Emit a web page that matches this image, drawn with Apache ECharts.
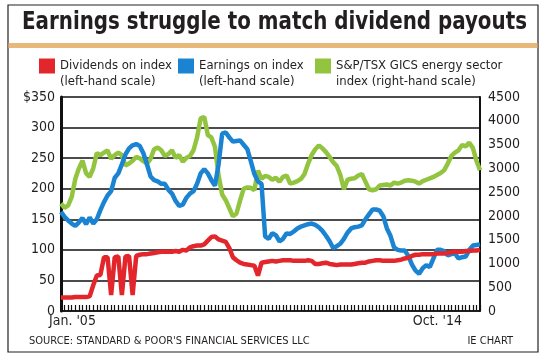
<!DOCTYPE html>
<html>
<head>
<meta charset="utf-8">
<script src="https://cdn.jsdelivr.net/npm/echarts@6/dist/echarts.min.js"></script>
<style>
html,body{margin:0;padding:0;background:#fff;}
#c{width:547px;height:361px;}
</style>
</head>
<body>
<div id="c"></div>
<script>
// ---- data ----
const startYear = 2005, startMonth = 0, monthCount = 118; // Jan 2005 .. Oct 2014
const categories = [];
for (let i = 0; i < monthCount; i++) {
  const m = (startMonth + i) % 12, y = startYear + Math.floor((startMonth + i) / 12);
  categories.push(y + '-' + String(m + 1).padStart(2, '0'));
}
const dividends = [22,22,22,22,23,23,23,23,24,42,
58,59,88,88,26,88,89,26,89,90,
26,90,92,93,93,94,95,96,97,97,
97,97,98,97,100,99,104,106,107,107,
109,115,121,122,117,115,113,103,88,83,
79,77,76,75,74,58,79,80,81,82,
81,82,83,83,83,82,82,82,82,83,
82,77,77,78,79,77,76,75,76,76,
76,76,77,78,79,79,81,82,83,83,
82,82,82,82,83,84,86,87,90,92,
92,93,93,93,93,94,94,94,95,96,
97,97,97,98,98,99,99,100];
const earnings = [162,154,148,143,139,145,152,142,153,143,
150,165,178,189,196,218,225,240,256,266,
271,273,270,258,240,220,214,212,208,208,
198,192,180,172,174,185,192,196,208,225,
232,225,214,205,240,290,292,284,277,278,
279,272,265,245,224,212,208,122,118,127,
124,114,118,127,126,130,135,138,140,142,
143,141,137,131,123,114,103,106,110,118,
128,135,137,138,140,150,158,166,166,164,
155,135,123,104,100,99,99,90,76,66,
61,70,75,72,86,100,100,98,91,93,
94,86,88,89,100,107,108,109];
const energyIndex = [2260,2170,2220,2400,2780,3000,3160,2900,2820,3000,
3320,3280,3330,3380,3200,3280,3330,3280,3060,3100,
3160,3240,3210,3150,3100,3200,3400,3440,3380,3260,
3300,3380,3220,3280,3140,3220,3260,3380,3650,4050,
4080,3700,3650,3450,2850,2450,2330,2160,1990,2050,
2320,2570,2600,2590,2540,2950,2780,2840,2820,2760,
2800,2720,2820,2850,2680,2700,2730,2780,2880,3100,
3280,3400,3480,3420,3340,3240,3130,3050,2860,2560,
2760,2780,2790,2850,2880,2720,2560,2540,2560,2640,
2650,2660,2640,2700,2680,2700,2740,2750,2740,2720,
2680,2730,2760,2790,2820,2860,2900,2960,3100,3260,
3330,3380,3490,3460,3540,3430,3160,2960];
const leftTickLabels = ['0','50','100','150','200','250','300','$350'];
const rightTickLabels = ['0','500','1000','1500','2000','2500','3000','3500','4000','4500'];
const xTickLabels = ["Jan. '05", "Oct. '14"];
const seriesNames = ['Dividends on index\n(left-hand scale)', 'Earnings on index\n(left-hand scale)', 'S&P/TSX GICS energy sector\nindex (right-hand scale)'];
const titleText = 'Earnings struggle to match dividend payouts';
const sourceText = "SOURCE: STANDARD & POOR'S FINANCIAL SERVICES LLC";
const creditText = 'IE CHART';

// ---- chart ----
const FONT = '"DejaVu Sans Condensed","Liberation Sans Narrow",sans-serif';
const RED = '#e2262c', BLUE = '#1b84d2', GREEN = '#92c43f', INK = '#231f20';
const chart = echarts.init(document.getElementById('c'), null, {renderer: 'canvas'});

function legendAt(name, left) {
  return {
    data: [name], left: left, top: 42, orient: 'horizontal', padding: 0,
    itemWidth: 16, itemHeight: 15, icon: 'rect', selectedMode: false,
    formatter: n => '\n' + n,
    textStyle: {fontFamily: FONT, fontSize: 13, lineHeight: 16, color: INK}
  };
}

const option = {
  animation: false,
  backgroundColor: '#fff',
  legend: [legendAt(seriesNames[0], 39), legendAt(seriesNames[1], 178), legendAt(seriesNames[2], 315)],
  grid: {left: 61, right: 67, top: 97, bottom: 50, containLabel: false},
  xAxis: {
    type: 'category', data: categories, boundaryGap: false,
    axisLine: {show: true, lineStyle: {color: '#111', width: 1.5}},
    axisTick: {show: true, inside: true, interval: 0, length: 6, lineStyle: {color: '#111', width: 1.2}},
    axisLabel: {show: false},
    splitLine: {show: false}
  },
  yAxis: [{
    type: 'value', min: 0, max: 350, interval: 50, position: 'left',
    axisLine: {show: true, lineStyle: {color: '#111', width: 3}},
    axisTick: {show: false},
    splitLine: {show: true, lineStyle: {color: '#111', width: 1.5}},
    axisLabel: {margin: 6, fontFamily: FONT, fontSize: 14, color: INK,
      formatter: v => leftTickLabels[Math.round(v / 50)]}
  }, {
    type: 'value', min: 0, max: 4500, interval: 500, position: 'right',
    axisLine: {show: true, lineStyle: {color: '#111', width: 2}},
    axisTick: {show: false},
    splitLine: {show: false},
    axisLabel: {margin: 8, fontFamily: FONT, fontSize: 14, color: INK,
      formatter: v => rightTickLabels[Math.round(v / 500)]}
  }],
  series: [{
    name: seriesNames[2], type: 'line', yAxisIndex: 1, data: energyIndex,
    showSymbol: false, color: GREEN, lineStyle: {width: 4.5, color: GREEN}
  }, {
    name: seriesNames[1], type: 'line', yAxisIndex: 0, data: earnings,
    showSymbol: false, color: BLUE, lineStyle: {width: 4.5, color: BLUE}
  }, {
    name: seriesNames[0], type: 'line', yAxisIndex: 0, data: dividends,
    showSymbol: false, color: RED, lineStyle: {width: 4.5, color: RED}
  }],
  graphic: [
    {type: 'rect', shape: {x: 8, y: 5, width: 530, height: 347}, style: {fill: 'none', stroke: '#222', lineWidth: 1.2}, z: 100},
    {type: 'rect', shape: {x: 8.5, y: 43, width: 529, height: 5}, style: {fill: '#e7b87a'}, z: 100},
    {type: 'text', x: 22, y: 11, scaleX: 0.92, style: {text: titleText, font: 'bold 24px ' + FONT, fill: INK}},
    {type: 'text', left: 49, top: 314, style: {text: xTickLabels[0], font: '14px ' + FONT, fill: INK}},
    {type: 'text', right: 547 - 462, top: 314, style: {text: xTickLabels[1], font: '14px ' + FONT, fill: INK}},
    {type: 'text', left: 29, top: 336, style: {text: sourceText, font: '11px ' + FONT, fill: INK}},
    {type: 'text', right: 547 - 513, top: 336, style: {text: creditText, font: '11px ' + FONT, fill: INK}}
  ]
};
chart.setOption(option);
</script>
</body>
</html>
